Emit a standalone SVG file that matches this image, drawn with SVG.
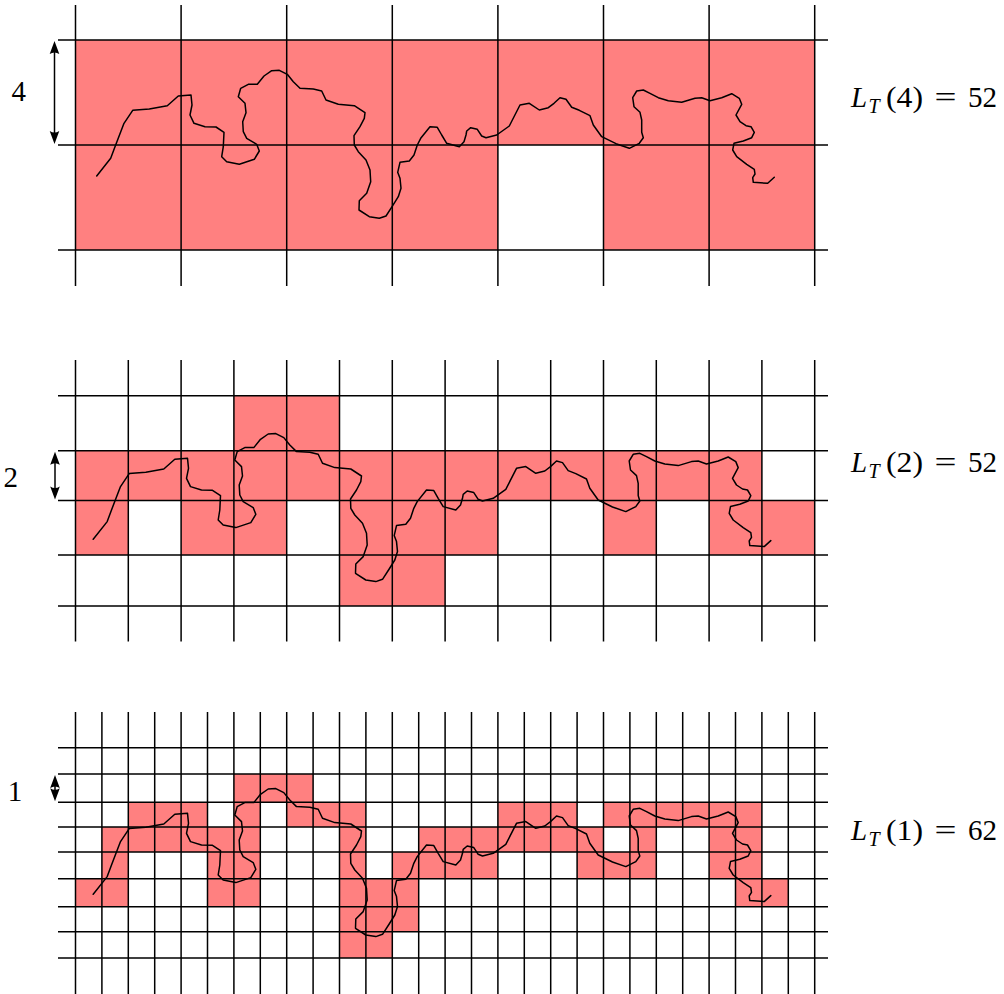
<svg xmlns="http://www.w3.org/2000/svg" xmlns:xlink="http://www.w3.org/1999/xlink" width="1004" height="994" viewBox="0 0 1004 994">
<style>
.cell{fill:#FF8080;stroke:none}
.grid{stroke:#000;stroke-width:1.5;fill:none}
.curve{stroke:#000;stroke-width:1.5;fill:none;stroke-linejoin:round;stroke-linecap:round}
.dim{stroke:#000;stroke-width:1.5;fill:none;marker-start:url(#ah);marker-end:url(#ah)}
.tx{font-family:'Liberation Serif','Times New Roman',serif;font-size:29px;fill:#000}
</style>
<defs>
<marker id="ah" markerUnits="userSpaceOnUse" viewBox="-6 -6 15 12" refX="0" refY="0" markerWidth="15" markerHeight="12" orient="auto-start-reverse">
<path d="M8,0 L-5,-4.8 Q-2,0 -5,4.8 Z" fill="#000"/>
</marker>
<polyline id="curve" class="curve" points="96.7,176 110.7,158.3 115,146.7 124,123.3 132.7,110.3 149.3,109 167.3,105.7 178.3,96 191,95 192,105 190,115 194,123.3 205,126.7 216,127 224,132.3 223.3,146.7 221.7,156.7 226.7,161.7 239.3,164.3 254.3,159.3 259.3,151 256.7,144.3 246.7,138.3 243.3,131.7 242.7,121.7 246,112.7 245,103.3 238.3,96.7 240.7,88.3 248.3,84.3 257.3,84.3 264,76 271.7,70.7 279.3,70.3 287.3,74.3 293.3,81.7 300,88.3 313.3,89 321.7,91 326,100 338.3,104.3 354.3,105.7 365,112.7 364.3,118.3 360,126.7 354,135.7 354.3,145 358.3,151.7 366,160 370,170 370.7,181.7 366.7,193.3 359.3,200.7 359,210 369.3,216.7 379.3,218.3 386,216 392.7,205.7 398.3,196.7 401,188.3 400,178.3 397.7,172.3 400,162.3 409.3,161 414,155 417.3,145 420.7,138.3 430,126.7 437.3,127.3 441.7,135 446.7,143.3 459.3,146.7 464,141.7 466,135 466.7,131 470.7,127.7 477.3,129.3 481.7,136 486,137.7 496.7,135 509.3,126 520,105 529.3,103.3 539.3,110 548.3,107.7 554,103.3 560,97.7 566,99.3 571.7,107.3 579.3,110.3 590,115.7 593.3,125 601.7,136.7 616,143.7 629.3,148.3 639.3,143.3 643.3,137.7 641.7,132.3 641.7,120 640,112.3 634,106.7 632.7,97.7 636.7,91 643.3,90 650,93.3 658.3,97.7 668.3,100.7 681.7,102.3 695,98.3 701.7,97.7 710,100.7 721.7,97.7 731.7,93.7 739.3,98.3 741.7,104.3 736,115 740,121.7 746,125.7 751,126.7 754.3,132.3 751.7,137.7 743.3,141 734,143.3 732.7,150 736.7,156.7 746.7,164.3 754.3,169.3 755,174 752.7,177.7 753.3,182.3 767.7,183.3 774.3,177.3"/>
</defs>

<!-- ===== Panel eps = 4 ===== -->
<g id="panel4">
<g id="cells4">
<rect class="cell" x="75.5" y="40" width="739.2" height="105"/>
<rect class="cell" x="75.5" y="145" width="422.4" height="105"/>
<rect class="cell" x="603.5" y="145" width="211.2" height="105"/>
</g>
<g id="grid4" class="grid">
<path d="M75.5,5V286M181.1,5V286M286.7,5V286M392.3,5V286M497.9,5V286M603.5,5V286M709.1,5V286M814.7,5V286"/>
<path d="M58,40H828M58,145H828M58,250H828"/>
</g>
<use id="curve4" xlink:href="#curve" href="#curve"/>
<g id="scale4">
<line class="dim" x1="54.5" y1="49" x2="54.5" y2="136"/>
<text class="tx" x="18.7" y="101" text-anchor="middle">4</text>
</g>
<g id="label4">
<text class="tx" x="851" y="106.5" font-style="italic">L</text>
<text class="tx" x="868.5" y="112.5" font-style="italic" style="font-size:20px">T</text>
<text class="tx" x="886" y="106.5" textLength="37" lengthAdjust="spacingAndGlyphs">(4)</text>
<text class="tx" x="934.5" y="106.5" textLength="22" lengthAdjust="spacingAndGlyphs">=</text>
<text class="tx" x="968" y="106.5" textLength="29" lengthAdjust="spacingAndGlyphs">52</text>
</g>
</g>

<!-- ===== Panel eps = 2 ===== -->
<g id="panel2">
<g id="cells2">
<rect class="cell" x="233.9" y="395.7" width="105.6" height="55"/>
<rect class="cell" x="75.5" y="450.7" width="686.4" height="49.8"/>
<rect class="cell" x="75.5" y="500.5" width="52.8" height="54.5"/>
<rect class="cell" x="181.1" y="500.5" width="105.6" height="54.5"/>
<rect class="cell" x="339.5" y="500.5" width="158.4" height="54.5"/>
<rect class="cell" x="603.5" y="500.5" width="52.8" height="54.5"/>
<rect class="cell" x="709.1" y="500.5" width="105.6" height="54.5"/>
<rect class="cell" x="339.5" y="555" width="105.6" height="51"/>
</g>
<g id="grid2" class="grid">
<path d="M75.5,360V641.5M128.3,360V641.5M181.1,360V641.5M233.9,360V641.5M286.7,360V641.5M339.5,360V641.5M392.3,360V641.5M445.1,360V641.5M497.9,360V641.5M550.7,360V641.5M603.5,360V641.5M656.3,360V641.5M709.1,360V641.5M761.9,360V641.5M814.7,360V641.5"/>
<path d="M58,395.7H828M58,450.7H828M58,500.5H828M58,555H828M58,606H828"/>
</g>
<use id="curve2" xlink:href="#curve" href="#curve" transform="translate(-3.5,363.3)"/>
<g id="scale2">
<line class="dim" x1="55" y1="459.7" x2="55" y2="491.5"/>
<text class="tx" x="10.7" y="486.7" text-anchor="middle">2</text>
</g>
<g id="label2">
<text class="tx" x="851" y="472.3" font-style="italic">L</text>
<text class="tx" x="868.5" y="478.3" font-style="italic" style="font-size:20px">T</text>
<text class="tx" x="886" y="472.3" textLength="37" lengthAdjust="spacingAndGlyphs">(2)</text>
<text class="tx" x="934.5" y="472.3" textLength="22" lengthAdjust="spacingAndGlyphs">=</text>
<text class="tx" x="968" y="472.3" textLength="29" lengthAdjust="spacingAndGlyphs">52</text>
</g>
</g>

<!-- ===== Panel eps = 1 ===== -->
<g id="panel1">
<g id="cells1">
<rect class="cell" x="233.9" y="774" width="79.2" height="28.3"/>
<rect class="cell" x="128.3" y="802.3" width="79.2" height="24.7"/>
<rect class="cell" x="233.9" y="802.3" width="26.4" height="24.7"/>
<rect class="cell" x="286.7" y="802.3" width="79.2" height="24.7"/>
<rect class="cell" x="497.9" y="802.3" width="79.2" height="24.7"/>
<rect class="cell" x="603.5" y="802.3" width="158.4" height="24.7"/>
<rect class="cell" x="101.9" y="827" width="158.4" height="25"/>
<rect class="cell" x="339.5" y="827" width="26.4" height="25"/>
<rect class="cell" x="418.7" y="827" width="184.8" height="25"/>
<rect class="cell" x="629.9" y="827" width="26.4" height="25"/>
<rect class="cell" x="709.1" y="827" width="52.8" height="25"/>
<rect class="cell" x="101.9" y="852" width="26.4" height="26.7"/>
<rect class="cell" x="207.5" y="852" width="52.8" height="26.7"/>
<rect class="cell" x="339.5" y="852" width="26.4" height="26.7"/>
<rect class="cell" x="392.3" y="852" width="105.6" height="26.7"/>
<rect class="cell" x="577.1" y="852" width="79.2" height="26.7"/>
<rect class="cell" x="709.1" y="852" width="52.8" height="26.7"/>
<rect class="cell" x="75.5" y="878.7" width="52.8" height="28"/>
<rect class="cell" x="207.5" y="878.7" width="52.8" height="28"/>
<rect class="cell" x="339.5" y="878.7" width="79.2" height="28"/>
<rect class="cell" x="735.5" y="878.7" width="52.8" height="28"/>
<rect class="cell" x="339.5" y="906.7" width="79.2" height="25"/>
<rect class="cell" x="339.5" y="931.7" width="52.8" height="26.3"/>
</g>
<g id="grid1" class="grid">
<path d="M75.5,712V994M101.9,712V994M128.3,712V994M154.7,712V994M181.1,712V994M207.5,712V994M233.9,712V994M260.3,712V994M286.7,712V994M313.1,712V994M339.5,712V994M365.9,712V994M392.3,712V994M418.7,712V994M445.1,712V994M471.5,712V994M497.9,712V994M524.3,712V994M550.7,712V994M577.1,712V994M603.5,712V994M629.9,712V994M656.3,712V994M682.7,712V994M709.1,712V994M735.5,712V994M761.9,712V994M788.3,712V994M814.7,712V994"/>
<path d="M58,747.7H828M58,774H828M58,802.3H828M58,827H828M58,852H828M58,878.7H828M58,906.7H828M58,931.7H828M58,958H828"/>
</g>
<use id="curve1" xlink:href="#curve" href="#curve" transform="translate(-3.5,718.3)"/>
<g id="scale1">
<line class="dim" x1="55" y1="783" x2="55" y2="793.3"/>
<text class="tx" x="15" y="801" text-anchor="middle">1</text>
</g>
<g id="label1">
<text class="tx" x="851" y="840" font-style="italic">L</text>
<text class="tx" x="868.5" y="846" font-style="italic" style="font-size:20px">T</text>
<text class="tx" x="886" y="840" textLength="37" lengthAdjust="spacingAndGlyphs">(1)</text>
<text class="tx" x="934.5" y="840" textLength="22" lengthAdjust="spacingAndGlyphs">=</text>
<text class="tx" x="968" y="840" textLength="29" lengthAdjust="spacingAndGlyphs">62</text>
</g>
</g>
</svg>
